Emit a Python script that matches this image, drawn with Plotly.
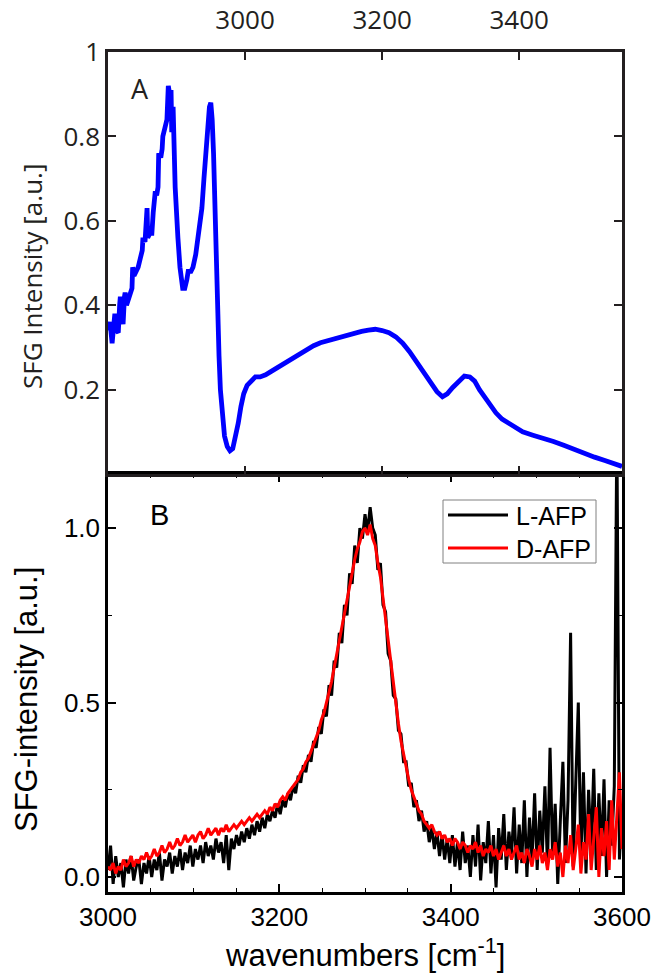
import plotly.graph_objects as go

# ---------------- Panel A data (blue) ----------------
wn_a = [2800, 2803, 2806, 2808, 2810, 2812, 2815, 2817, 2818, 2820, 2822, 2824, 2825, 2827,
        2829, 2832, 2835, 2836, 2838, 2841, 2844, 2847, 2850, 2851, 2854, 2857, 2858, 2861,
        2864, 2866, 2869, 2871, 2873, 2874, 2877, 2879, 2880, 2883, 2886, 2888, 2890, 2892,
        2893, 2895, 2898, 2902, 2905, 2909, 2912, 2915, 2917, 2921, 2924, 2928, 2931, 2934,
        2937, 2940, 2943, 2946, 2948, 2950, 2952, 2954, 2956, 2958, 2960, 2962, 2964, 2967,
        2970, 2974, 2978, 2982, 2986, 2990, 2994, 2998, 3003, 3008, 3015, 3022, 3030, 3040,
        3050, 3060, 3070, 3080, 3090, 3100, 3110, 3120, 3130, 3140, 3150, 3160, 3170, 3180,
        3190, 3200, 3210, 3220, 3230, 3240, 3250, 3260, 3270, 3280, 3288, 3295, 3303, 3312,
        3320, 3328, 3335, 3342, 3350, 3358, 3366, 3375, 3385, 3395, 3405, 3420, 3435, 3450,
        3465, 3480, 3495, 3510, 3525, 3540, 3550]
sfg_a = [0.34, 0.36, 0.31, 0.37, 0.38, 0.34, 0.335, 0.40, 0.42, 0.38, 0.355, 0.42, 0.43, 0.40,
         0.41, 0.43, 0.44, 0.49, 0.47, 0.48, 0.49, 0.51, 0.53, 0.56, 0.55, 0.63, 0.56, 0.57,
         0.57, 0.62, 0.67, 0.66, 0.68, 0.76, 0.75, 0.77, 0.80, 0.82, 0.84, 0.92, 0.90, 0.91,
         0.81, 0.87, 0.68, 0.56, 0.49, 0.44, 0.44, 0.46, 0.48, 0.48, 0.49, 0.52, 0.56, 0.58,
         0.63, 0.70, 0.78, 0.84, 0.87, 0.88, 0.84, 0.76, 0.62, 0.50, 0.38, 0.28, 0.20, 0.13,
         0.09, 0.065, 0.055, 0.06, 0.085, 0.12, 0.16, 0.19, 0.21, 0.22, 0.23, 0.23, 0.235, 0.245,
         0.255, 0.265, 0.275, 0.286, 0.296, 0.304, 0.311, 0.316, 0.321, 0.325, 0.33, 0.334, 0.338, 0.341,
         0.343, 0.34, 0.335, 0.325, 0.31, 0.29, 0.265, 0.24, 0.215, 0.195, 0.183, 0.19, 0.205, 0.22,
         0.232, 0.23, 0.22, 0.20, 0.18, 0.16, 0.145, 0.13, 0.12, 0.11, 0.10, 0.092, 0.085, 0.077,
         0.068, 0.058, 0.048, 0.040, 0.032, 0.024, 0.018]

# ---------------- Panel B data ----------------
wn_start_b = 3000
wn_step_b = 3

l_afp = [0.02, 0.09, -0.02, 0.06, 0.00, 0.04, -0.03, 0.05, 0.01, 0.06,
         -0.01, 0.03, 0.05, -0.02, 0.04, 0.01, 0.06, 0.00, 0.05, 0.02,
         0.07, -0.01, 0.05, 0.03, 0.07, 0.01, 0.06, 0.03, 0.08, 0.02,
         0.07, 0.04, 0.09, 0.03, 0.08, 0.05, 0.09, 0.04, 0.10, 0.06,
         0.09, 0.05, 0.11, 0.07, 0.10, 0.04, 0.12, 0.02, 0.11, 0.08,
         0.12, 0.09, 0.13, 0.10, 0.14, 0.11, 0.15, 0.12, 0.16, 0.13,
         0.17, 0.14, 0.18, 0.16, 0.19, 0.17, 0.21, 0.18, 0.22, 0.20,
         0.24, 0.22, 0.26, 0.24, 0.29, 0.27, 0.32, 0.30, 0.35, 0.33,
         0.39, 0.37, 0.43, 0.41, 0.48, 0.46, 0.55, 0.52, 0.62, 0.60,
         0.70, 0.67, 0.78, 0.75, 0.87, 0.84, 0.95, 0.90, 1.00, 0.97,
         1.04, 0.99, 1.06, 1.00, 0.98, 0.88, 0.90, 0.78, 0.76, 0.64,
         0.62, 0.52, 0.51, 0.42, 0.41, 0.33, 0.33, 0.26, 0.27, 0.20,
         0.22, 0.16, 0.19, 0.13, 0.16, 0.10, 0.14, 0.08, 0.13, 0.06,
         0.12, 0.05, 0.11, 0.04, 0.12, 0.03, 0.10, 0.02, 0.13, 0.04,
         0.09, 0.00, 0.12, 0.03, 0.15, -0.01, 0.10, 0.04, 0.16, 0.01,
         0.12, -0.03, 0.14, 0.05, 0.18, 0.02, 0.13, 0.06, 0.20, 0.01,
         0.15, 0.04, 0.22, 0.00, 0.17, 0.05, 0.24, 0.02, 0.19, 0.07,
         0.26, 0.03, 0.37, 0.06, 0.21, -0.02, 0.16, 0.33, 0.04, 0.22,
         0.70, 0.03, 0.27, 0.50, 0.05, 0.30, 0.01, 0.25, 0.08, 0.31,
         0.02, 0.24, 0.06, 0.28, 0.00, 0.22, 0.09, 0.26, 1.30, 0.05,
         0.20]

d_afp = [0.03, 0.02, 0.04, 0.01, 0.03, 0.02, 0.05, 0.03, 0.04, 0.06,
         0.03, 0.05, 0.04, 0.06, 0.05, 0.07, 0.05, 0.06, 0.08, 0.06,
         0.07, 0.09, 0.07, 0.08, 0.10, 0.08, 0.09, 0.11, 0.09, 0.10,
         0.12, 0.10, 0.11, 0.12, 0.10, 0.12, 0.13, 0.11, 0.12, 0.14,
         0.12, 0.13, 0.14, 0.12, 0.14, 0.13, 0.15, 0.13, 0.14, 0.15,
         0.14, 0.15, 0.16, 0.15, 0.16, 0.17, 0.16, 0.17, 0.18, 0.17,
         0.18, 0.19, 0.18, 0.20, 0.19, 0.21, 0.20, 0.22, 0.23, 0.22,
         0.24, 0.25, 0.26, 0.27, 0.28, 0.30, 0.31, 0.33, 0.34, 0.36,
         0.38, 0.40, 0.42, 0.45, 0.47, 0.50, 0.53, 0.56, 0.60, 0.64,
         0.68, 0.72, 0.76, 0.80, 0.84, 0.88, 0.91, 0.94, 0.96, 0.99,
         1.00, 0.98, 1.01, 0.97, 0.95, 0.90, 0.86, 0.80, 0.74, 0.67,
         0.61, 0.55, 0.49, 0.44, 0.39, 0.35, 0.31, 0.28, 0.25, 0.23,
         0.21, 0.19, 0.18, 0.16, 0.15, 0.14, 0.15, 0.13, 0.12, 0.13,
         0.11, 0.12, 0.10, 0.11, 0.09, 0.11, 0.10, 0.08, 0.10, 0.09,
         0.07, 0.09, 0.08, 0.10, 0.07, 0.09, 0.06, 0.08, 0.07, 0.09,
         0.06, 0.08, 0.05, 0.07, 0.09, 0.06, 0.08, 0.05, 0.07, 0.09,
         0.05, 0.07, 0.04, 0.08, 0.06, 0.03, 0.08, 0.05, 0.09, 0.04,
         0.07, 0.02, 0.08, 0.05, 0.10, 0.03, 0.07, 0.00, 0.09, 0.04,
         0.12, 0.02, 0.08, 0.15, 0.01, 0.10, 0.05, 0.18, 0.02, 0.12,
         0.20, 0.00, 0.14, 0.06, 0.16, 0.02, 0.22, 0.05, 0.18, 0.30,
         0.08]

wn_b_l = [wn_start_b + wn_step_b * i for i in range(len(l_afp))]
wn_b_d = [wn_start_b + wn_step_b * i for i in range(len(d_afp))]

series_names = ["L-AFP", "D-AFP"]
series_colors = ["black", "#ff0000"]

top_ticks = [3000, 3200, 3400]
top_yticks = [0.2, 0.4, 0.6, 0.8, 1.0]
top_yticktext = ["0.2", "0.4", "0.6", "0.8", "1"]
bot_ticks = [3000, 3200, 3400, 3600]
bot_minor = [3050, 3100, 3150, 3250, 3300, 3350, 3450, 3500, 3550]
bot_yticks = [0.0, 0.5, 1.0]
bot_yticktext = ["0.0", "0.5", "1.0"]

W, H = 656, 975
xl, xr = 108, 622
ya_top, ya_bot = 52, 474
yb_top, yb_bot = 474, 892

def px(x):
    return x / W

def py(y):
    return (H - y) / H

MYR = "Open Sans"
ARI = "Liberation Sans, Arial"
dark = "#231f20"

fig = go.Figure()
fig.add_trace(go.Scatter(x=wn_a, y=sfg_a, mode="lines", line=dict(color="#0000ff", width=4.8),
                         xaxis="x2", yaxis="y2", showlegend=False))
fig.add_trace(go.Scatter(x=wn_b_l, y=l_afp, mode="lines", line=dict(color=series_colors[0], width=3),
                         name=series_names[0], xaxis="x", yaxis="y", showlegend=False))
fig.add_trace(go.Scatter(x=wn_b_d, y=d_afp, mode="lines", line=dict(color=series_colors[1], width=3),
                         name=series_names[1], xaxis="x", yaxis="y", showlegend=False))

# legend box drawn by hand to match the reference's compact box
leg_x0, leg_x1, leg_y0, leg_y1 = 443, 596, 500, 563
leg_rows = [515, 548]
shapes = [dict(type="rect", xref="paper", yref="paper", x0=px(leg_x0), x1=px(leg_x1),
               y0=py(leg_y1), y1=py(leg_y0), line=dict(color="#808080", width=1),
               fillcolor="white", layer="above")]
annotations = []
for name, col, ry in zip(series_names, series_colors, leg_rows):
    shapes.append(dict(type="line", xref="paper", yref="paper", x0=px(448), x1=px(508),
                       y0=py(ry), y1=py(ry), line=dict(color=col, width=3), layer="above"))
    annotations.append(dict(text=name, x=px(514), y=py(ry + 1), xref="paper", yref="paper",
                            showarrow=False, xanchor="left", yanchor="middle",
                            font=dict(family=ARI, size=25, color="black")))

annotations += [
    dict(text="SFG Intensity [a.u.]", x=px(32), y=py(277), xref="paper", yref="paper",
         textangle=-90, showarrow=False, xanchor="center", yanchor="middle",
         font=dict(family=MYR, size=26, color=dark)),
    dict(text="SFG-intensity [a.u.]", x=px(26), y=py(700), xref="paper", yref="paper",
         textangle=-90, showarrow=False, xanchor="center", yanchor="middle",
         font=dict(family=ARI, size=31, color="black")),
    dict(text="wavenumbers [cm<sup>-1</sup>]", x=px((xl + xr) / 2), y=py(953),
         xref="paper", yref="paper", showarrow=False, xanchor="center", yanchor="middle",
         font=dict(family=ARI, size=31, color="black")),
    dict(text="A", x=px(140), y=py(88), xref="paper", yref="paper", showarrow=False,
         xanchor="center", yanchor="middle", font=dict(family=MYR, size=27, color=dark)),
    dict(text="B", x=px(159), y=py(515), xref="paper", yref="paper", showarrow=False,
         xanchor="center", yanchor="middle", font=dict(family=ARI, size=29, color="black")),
]

fig.update_layout(
    width=W, height=H,
    margin=dict(l=0, r=0, t=0, b=0, autoexpand=False),
    paper_bgcolor="white", plot_bgcolor="white",
    showlegend=False,
    xaxis=dict(domain=[px(xl), px(xr)], anchor="y", range=[3000, 3600], automargin=False,
               tickvals=bot_ticks, ticks="inside", ticklen=8, tickwidth=1.5, tickcolor="black",
               minor=dict(tickvals=bot_minor, ticks="inside", ticklen=4, tickwidth=1.2, tickcolor="black"),
               showline=True, linecolor="black", linewidth=2.5, mirror="allticks",
               showgrid=False, zeroline=False,
               tickfont=dict(family=ARI, size=26, color="black")),
    yaxis=dict(domain=[py(yb_bot), py(yb_top)], anchor="x", range=[-0.043, 1.155], automargin=False,
               tickvals=bot_yticks, ticktext=bot_yticktext, ticks="inside", ticklen=8, tickwidth=1.5,
               tickcolor="black",
               minor=dict(tickvals=[0.25, 0.75], ticks="inside", ticklen=4, tickwidth=1.2, tickcolor="black"),
               showline=True, linecolor="black", linewidth=2.5, mirror="allticks",
               showgrid=False, zeroline=False,
               tickfont=dict(family=ARI, size=26, color="black")),
    xaxis2=dict(domain=[px(xl), px(xr)], anchor="y2", side="top", range=[2800, 3550], automargin=False,
                tickvals=top_ticks, ticks="inside", ticklen=8, tickwidth=1.5, tickcolor=dark,
                showline=True, linecolor=dark, linewidth=2.5, mirror="ticks",
                showgrid=False, zeroline=False, ticklabelstandoff=10,
                tickfont=dict(family=MYR, size=26, color=dark)),
    yaxis2=dict(domain=[py(ya_bot), py(ya_top)], anchor="x2", range=[0, 1], automargin=False,
                tickvals=top_yticks, ticktext=top_yticktext, ticks="inside", ticklen=8, tickwidth=1.5,
                tickcolor=dark,
                showline=True, linecolor=dark, linewidth=2.5, mirror="ticks",
                showgrid=False, zeroline=False,
                tickfont=dict(family=MYR, size=26, color=dark)),
    shapes=shapes,
    annotations=annotations,
)

fig.write_html("out.html", config={"displayModeBar": False},
               post_script="document.body.style.margin='0px';")
